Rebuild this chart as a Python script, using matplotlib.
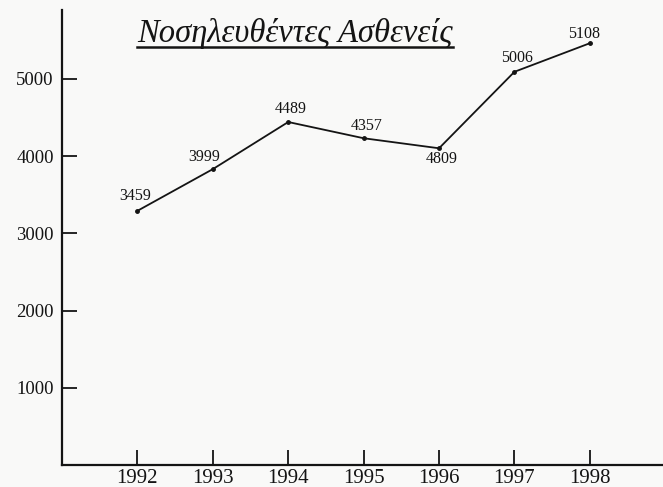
import matplotlib
matplotlib.use("Agg")
import matplotlib.pyplot as plt

years = [1992, 1993, 1994, 1995, 1996, 1997, 1998]
# plotted heights as drawn in the scan (points don't match their printed numbers)
patients = [3290, 3830, 4440, 4230, 4100, 5090, 5460]
point_labels = ["3459", "3999", "4489", "4357", "4809", "5006", "5108"]
label_offsets = [(-1.5, 11), (-6.5, 8.5), (1.5, 9.5), (2, 8.5), (2, -7.5), (1.5, 10), (-4.5, 6.5)]
y_ticks = [1000, 2000, 3000, 4000, 5000]
title = "Νοσηλευθέντες Ασθενείς"

ink = "#141414"
paper = "#f9f9f8"
plt.rcParams["font.family"] = ["Liberation Serif", "DejaVu Serif"]

fig = plt.figure(figsize=(6.63, 4.87), dpi=100, facecolor=paper)
ax = fig.add_axes([62 / 663, 22 / 487, 1 - 62 / 663, 455 / 487])
ax.set_facecolor(paper)

ax.plot(years, patients, color=ink, lw=1.3, marker="o", ms=2.5)

for x, y, txt, off in zip(years, patients, point_labels, label_offsets):
    ax.annotate(txt, (x, y), xytext=off, textcoords="offset points",
                ha="center", va="center", fontsize=11.5, color=ink)

ax.set_xlim(1991.0, 1998.97)
ax.set_ylim(0, 5890)
ax.set_xticks(years)
ax.set_yticks(y_ticks)
ax.tick_params(direction="in", length=11, width=1.3, colors=ink)
ax.tick_params(axis="x", labelsize=15, pad=3)
ax.tick_params(axis="y", labelsize=13.5, pad=6)

for side in ["top", "right"]:
    ax.spines[side].set_visible(False)
for side in ["left", "bottom"]:
    ax.spines[side].set_linewidth(1.6)
    ax.spines[side].set_color(ink)

# underlined italic title
t = fig.text(295 / 663, 1 - 33 / 487, title, ha="center", va="center",
             fontsize=23.5, style="italic", color=ink)
fig.canvas.draw()
bb = t.get_window_extent().transformed(fig.transFigure.inverted())
fig.add_artist(plt.Line2D([bb.x0, bb.x1], [1 - 47 / 487] * 2,
                          color=ink, lw=1.8, transform=fig.transFigure))

fig.savefig("out.png", dpi=100, facecolor=paper)
